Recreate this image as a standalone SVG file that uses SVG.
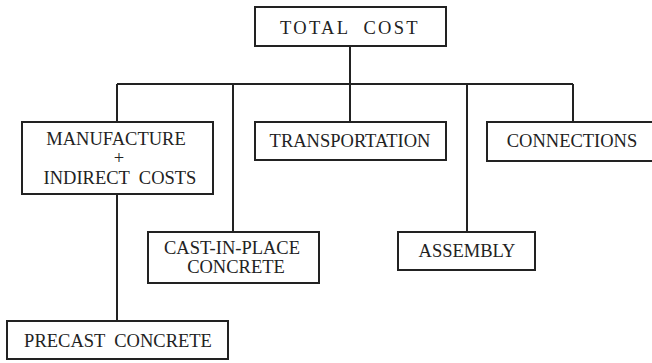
<svg xmlns="http://www.w3.org/2000/svg" width="652" height="363" viewBox="0 0 652 363">
  <style>
    .box { fill: #ffffff; stroke: #222222; stroke-width: 2; }
    .wire { fill: none; stroke: #222222; stroke-width: 2; }
    .lbl { font-family: "Liberation Serif", "Times New Roman", serif; font-size: 18.5px; fill: #222222; text-anchor: middle; white-space: pre; }
  </style>
  <rect width="652" height="363" fill="#ffffff"/>

  <!-- connectors -->
  <g id="connectors">
    <path class="wire" d="M350,46 V122"/>
    <path class="wire" d="M117,84 H573"/>
    <path class="wire" d="M117,84 V122"/>
    <path class="wire" d="M117,194 V321"/>
    <path class="wire" d="M233,84 V232"/>
    <path class="wire" d="M467,84 V232"/>
    <path class="wire" d="M573,84 V122"/>
  </g>

  <g id="total-cost">
    <rect class="box" x="255" y="7" width="191" height="39"/>
    <text class="lbl" x="350" y="34" letter-spacing="2.3" xml:space="preserve">TOTAL  COST</text>
  </g>

  <g id="manufacture">
    <rect class="box" x="22" y="122" width="191" height="72"/>
    <text class="lbl" x="116" y="145">MANUFACTURE</text>
    <text class="lbl" x="119" y="163.5" font-size="16">+</text>
    <text class="lbl" x="120" y="184" xml:space="preserve">INDIRECT  COSTS</text>
  </g>

  <g id="transportation">
    <rect class="box" x="255" y="122" width="191" height="38"/>
    <text class="lbl" x="350" y="147">TRANSPORTATION</text>
  </g>

  <g id="connections">
    <rect class="box" x="487" y="122" width="175" height="39"/>
    <text class="lbl" x="572" y="147">CONNECTIONS</text>
  </g>

  <g id="cast-in-place">
    <rect class="box" x="148" y="232" width="171" height="51"/>
    <text class="lbl" x="232" y="254">CAST-IN-PLACE</text>
    <text class="lbl" x="236" y="273">CONCRETE</text>
  </g>

  <g id="assembly">
    <rect class="box" x="398" y="232" width="137" height="38"/>
    <text class="lbl" x="467" y="257">ASSEMBLY</text>
  </g>

  <g id="precast">
    <rect class="box" x="7" y="321" width="221" height="38"/>
    <text class="lbl" x="118" y="347" xml:space="preserve">PRECAST  CONCRETE</text>
  </g>
</svg>
